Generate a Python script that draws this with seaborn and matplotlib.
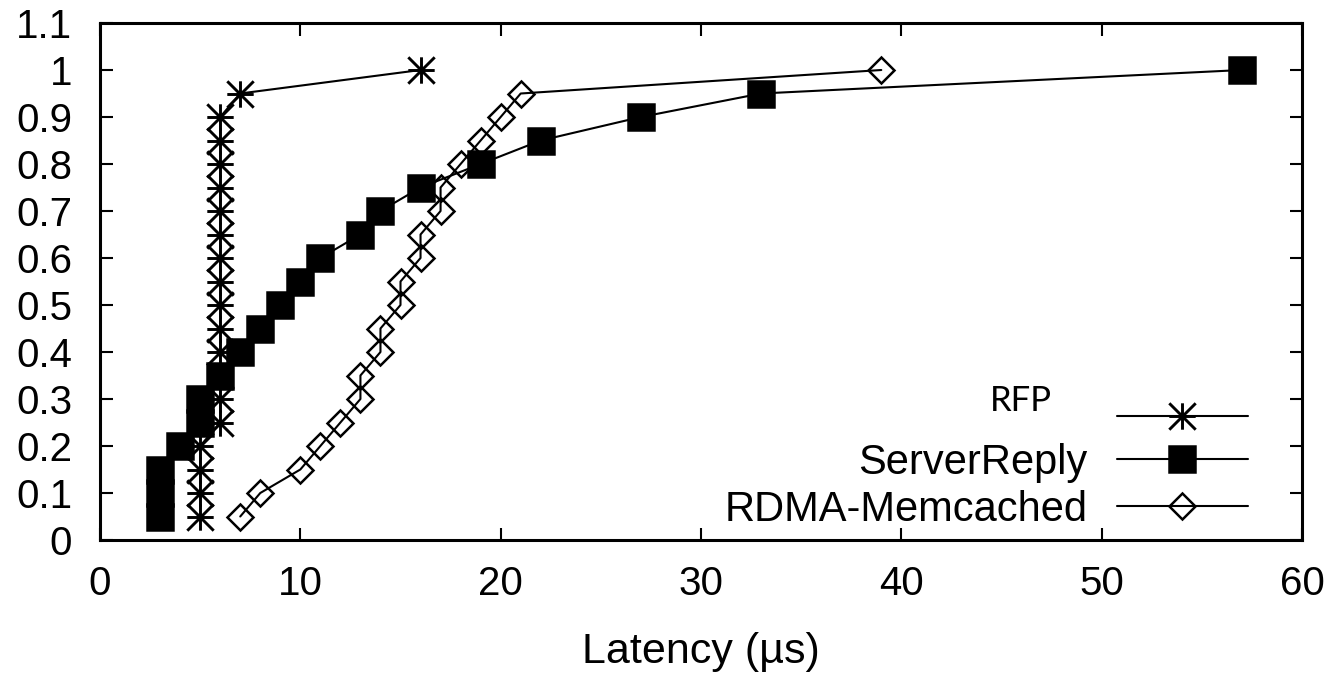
import numpy as np
import pandas as pd
import matplotlib
matplotlib.use("Agg")
import matplotlib.pyplot as plt
from matplotlib.path import Path
from matplotlib.ticker import FixedLocator, FuncFormatter
import seaborn as sns

# CDF of request latency for three designs
rfp_latency = [5, 5, 5, 5, 6, 6, 6, 6, 6, 6, 6, 6, 6, 6, 6, 6, 6, 6, 7, 16]
rfp_cdf = [0.05, 0.10, 0.15, 0.20, 0.25, 0.30, 0.35, 0.40, 0.45, 0.50,
           0.55, 0.60, 0.65, 0.70, 0.75, 0.80, 0.85, 0.90, 0.95, 1.00]

server_reply_latency = [3, 3, 3, 4, 5, 5, 6, 7, 8, 9, 10, 11, 13, 14, 16, 19, 22, 27, 33, 57]
server_reply_cdf = [0.05, 0.10, 0.15, 0.20, 0.25, 0.30, 0.35, 0.40, 0.45, 0.50,
                    0.55, 0.60, 0.65, 0.70, 0.75, 0.80, 0.85, 0.90, 0.95, 1.00]

rdma_memcached_latency = [7, 8, 10, 11, 12, 13, 13, 14, 14, 15, 15, 16, 16, 17, 17, 18, 19, 20, 21, 39]
rdma_memcached_cdf = [0.05, 0.10, 0.15, 0.20, 0.25, 0.30, 0.35, 0.40, 0.45, 0.50,
                      0.55, 0.60, 0.65, 0.70, 0.75, 0.80, 0.85, 0.90, 0.95, 1.00]

series_names = ["RFP", "ServerReply", "RDMA-Memcached"]
x_ticks = [0, 10, 20, 30, 40, 50, 60]
y_ticks = [0, 0.1, 0.2, 0.3, 0.4, 0.5, 0.6, 0.7, 0.8, 0.9, 1.0, 1.1]

sns.set_theme(style="ticks")
plt.rcParams["font.family"] = ["Liberation Sans", "DejaVu Sans"]
plt.rcParams["text.color"] = "black"
plt.rcParams["axes.labelcolor"] = "black"

# gnuplot-style asterisk: a plus sign overlaid with a cross
star = Path(
    [(-1, 0), (1, 0), (0, -1), (0, 1), (-1, -1), (1, 1), (-1, 1), (1, -1)],
    [Path.MOVETO, Path.LINETO] * 4,
)

fig = plt.figure(figsize=(13.36, 6.75), dpi=100)
ax = fig.add_axes([100 / 1336, 1 - 540 / 675, 1202 / 1336, 517 / 675])

common = dict(ax=ax, estimator=None, sort=False, color="black", linewidth=1.5,
              markeredgecolor="black")

sns.lineplot(x=rfp_latency, y=rfp_cdf, marker=star, markersize=19, markeredgewidth=2.1,
             label=series_names[0], zorder=3, **common)
sns.lineplot(x=server_reply_latency, y=server_reply_cdf, marker="s", markersize=19,
             markeredgewidth=1.8, markerfacecolor="black", label=series_names[1],
             zorder=4, **common)
sns.lineplot(x=rdma_memcached_latency, y=rdma_memcached_cdf, marker="D", markersize=13.5,
             markeredgewidth=1.8, fillstyle="none", label=series_names[2], zorder=5,
             **common)

ax.set_xlim(0, 60)
ax.set_ylim(0, 1.1)
ax.xaxis.set_major_locator(FixedLocator(x_ticks))
ax.yaxis.set_major_locator(FixedLocator(y_ticks))
ax.yaxis.set_major_formatter(FuncFormatter(lambda v, _: f"{v:g}"))
ax.tick_params(direction="in", length=9, width=1.5, top=True, right=True, colors="black")
ax.tick_params(axis="y", pad=20, labelsize=29)
ax.tick_params(axis="x", pad=18, labelsize=29)
for side in ax.spines.values():
    side.set_visible(True)
    side.set_linewidth(2.2)
    side.set_color("black")

ax.set_xlabel("Latency (\u00b5s)", fontsize=31, labelpad=21, color="black")
ax.set_ylabel("")

handles, labels = ax.get_legend_handles_labels()
leg = ax.legend(handles, labels, loc="lower right", bbox_to_anchor=(0.955, 0.020),
                frameon=False, markerfirst=False, fontsize=30, handlelength=3.15,
                handletextpad=0.7, labelspacing=0.16, borderpad=0, borderaxespad=0,
                labelcolor="black")
for h in leg.legend_handles:
    h.set_linewidth(1.5)

# the RFP entry carries its own label face
rfp_text = leg.get_texts()[0]
rfp_text.set_fontfamily(["Lato", "DejaVu Sans"])
rfp_text.set_fontsize(25)
rfp_text.set_position((-36, 19))

fig.savefig("out.png", dpi=100)
